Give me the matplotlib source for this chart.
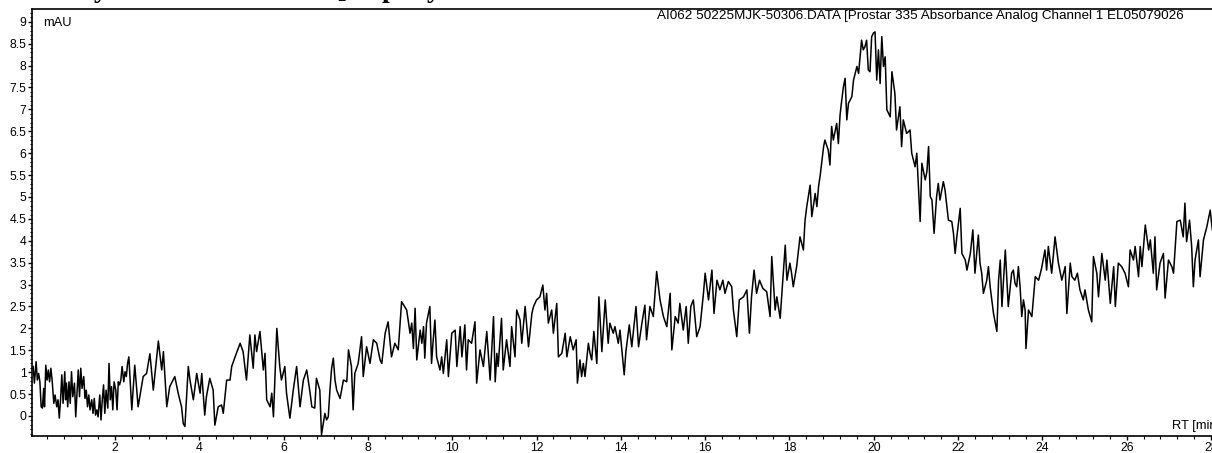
import matplotlib
matplotlib.use("Agg")
import matplotlib.pyplot as plt
from matplotlib.ticker import MultipleLocator, FuncFormatter
import numpy as np

# ---- data (retention time [min], absorbance [mAU]) ----
rt_a = [0.06, 0.09, 0.13, 0.16, 0.19, 0.22, 0.25, 0.28, 0.31, 0.33, 0.36, 0.39, 0.42, 0.45, 0.48,
        0.51, 0.55, 0.58, 0.62, 0.65, 0.68, 0.71, 0.74, 0.77, 0.81, 0.83, 0.85, 0.88, 0.91, 0.94,
        0.97, 1.00, 1.04, 1.07, 1.10, 1.13, 1.16, 1.19, 1.22, 1.26, 1.29, 1.32, 1.35, 1.38, 1.41,
        1.45, 1.48, 1.51, 1.54, 1.57, 1.60, 1.64, 1.67, 1.70, 1.73, 1.76, 1.79, 1.83, 1.86, 1.89,
        1.92, 1.95, 1.98, 2.02, 2.05, 2.08, 2.11, 2.14, 2.17, 2.21, 2.24, 2.27, 2.30, 2.33]
mau_a = [1.13, 0.75, 1.24, 0.82, 0.97, 0.78, 0.21, 0.18, 0.63, 0.21, 1.16, 0.82, 1.05, 0.78, 1.09,
         0.82, 0.29, 0.48, 0.21, 0.37, -0.05, 0.37, 0.94, 0.29, 1.01, 0.37, 0.75, 0.21, 0.78, 0.29,
         1.01, 0.44, 0.75, -0.02, 0.52, 1.05, 0.44, 1.09, 0.63, 0.90, 0.40, 0.59, 0.21, 0.48, 0.14,
         0.37, 0.06, 0.40, 0.02, 0.14, -0.02, 0.48, -0.09, 0.37, 0.71, 0.06, 0.59, 0.18, 1.20, 0.37,
         0.67, 0.14, 0.78, 0.59, 0.14, 0.78, 0.71, 0.82, 1.13, 0.78, 1.01, 0.90, 1.20, 1.35]

rt_b = [2.40, 2.47, 2.55, 2.67, 2.75, 2.83, 2.91, 3.03, 3.11, 3.15, 3.23, 3.30, 3.42, 3.50, 3.58,
        3.62, 3.66, 3.74, 3.78, 3.86, 3.94, 4.02, 4.06, 4.13, 4.17, 4.25, 4.33, 4.37, 4.45, 4.53,
        4.57, 4.61, 4.65, 4.73, 4.77, 4.85, 4.97, 5.04, 5.12, 5.20, 5.28, 5.32, 5.36, 5.44, 5.52,
        5.56, 5.60, 5.68, 5.72, 5.76, 5.84, 5.91, 5.95, 6.03, 6.07, 6.15, 6.23, 6.31, 6.39, 6.47,
        6.55, 6.63, 6.67, 6.74, 6.78, 6.86, 6.90, 6.98, 7.02, 7.06, 7.10, 7.14, 7.18, 7.22, 7.26,
        7.34, 7.42, 7.50, 7.54, 7.61, 7.65, 7.69, 7.77, 7.85, 7.89, 7.97, 8.05, 8.13, 8.21, 8.29,
        8.33, 8.41, 8.48, 8.56, 8.64, 8.72, 8.80]
mau_b = [0.14, 1.16, 0.21, 0.90, 0.97, 1.42, 0.59, 1.71, 1.05, 1.47, 0.21, 0.67, 0.90, 0.52, 0.21,
         -0.17, -0.24, 1.13, 0.82, 0.37, 0.97, 0.52, 0.97, 0.02, 0.44, 0.86, 0.59, -0.21, 0.21, 0.25,
         0.06, 0.44, 0.82, 0.82, 1.13, 1.35, 1.66, 1.47, 0.82, 1.85, 1.09, 1.85, 1.47, 1.93, 1.05,
         1.43, 0.37, 0.21, 0.52, -0.02, 2.00, 1.13, 0.82, 1.13, 0.52, -0.05, 0.59, 1.13, 0.21, 0.82,
         1.05, 0.52, 0.21, 0.18, 0.86, 0.59, -0.43, 0.06, -0.09, -0.02, 0.59, 1.09, 1.32, 0.82, 0.59,
         0.40, 0.82, 0.78, 1.51, 1.13, 0.14, 0.97, 1.20, 1.81, 0.90, 1.58, 1.20, 1.74, 1.66, 1.28,
         1.20, 1.89, 2.15, 1.35, 1.66, 1.51, 2.61]

rt_c = [8.92, 9.00, 9.04, 9.08, 9.12, 9.16, 9.24, 9.28, 9.32, 9.35, 9.39, 9.47, 9.51, 9.55, 9.59,
        9.63, 9.67, 9.71, 9.75, 9.79, 9.87, 9.91, 9.99, 10.07, 10.11, 10.19, 10.23, 10.30, 10.34, 10.38,
        10.46, 10.54, 10.58, 10.66, 10.74, 10.82, 10.90, 10.98, 11.02, 11.06, 11.09, 11.17, 11.21, 11.29, 11.37,
        11.41, 11.49, 11.53, 11.61, 11.65, 11.73, 11.81, 11.89, 11.93, 12.00, 12.08, 12.15, 12.20, 12.24, 12.28,
        12.36, 12.40, 12.48, 12.52, 12.60, 12.68, 12.72, 12.80, 12.87, 12.94, 12.97, 13.03, 13.07, 13.11, 13.15,
        13.23, 13.27, 13.31, 13.36, 13.43, 13.48, 13.55, 13.63, 13.70, 13.74, 13.82, 13.86, 13.94, 13.98, 14.08,
        14.12, 14.20, 14.26, 14.36, 14.42, 14.50, 14.57, 14.61, 14.69, 14.77, 14.85, 14.93, 15.01, 15.09, 15.17,
        15.21, 15.29, 15.36, 15.40, 15.48, 15.55, 15.60, 15.66, 15.72, 15.80, 15.88, 15.96, 16.00, 16.08, 16.16,
        16.21, 16.28, 16.35, 16.42, 16.47, 16.55, 16.63, 16.67, 16.75, 16.81, 16.91, 16.99, 17.05, 17.10, 17.16,
        17.22, 17.29, 17.37, 17.46, 17.54, 17.58, 17.66, 17.70, 17.78]
mau_c = [2.42, 1.89, 2.12, 1.54, 2.46, 1.28, 1.96, 1.66, 2.04, 1.32, 2.12, 2.50, 1.20, 1.74, 2.19,
         1.35, 1.20, 1.05, 1.35, 0.97, 1.74, 0.90, 1.89, 1.96, 1.13, 2.04, 1.35, 2.08, 1.05, 1.74,
         1.66, 2.15, 0.75, 1.51, 1.13, 1.93, 0.82, 2.27, 0.78, 1.43, 1.13, 2.23, 1.05, 1.74, 1.13,
         2.04, 1.35, 2.42, 2.19, 1.66, 2.50, 1.58, 2.34, 2.50, 2.65, 2.72, 2.99, 2.42, 2.80, 2.12,
         2.42, 1.89, 2.57, 1.35, 1.43, 1.89, 1.35, 1.81, 1.51, 1.74, 0.75, 1.28, 0.90, 1.20, 0.90,
         1.66, 1.43, 1.28, 1.93, 1.20, 2.72, 1.47, 2.65, 1.66, 2.12, 1.89, 2.04, 1.66, 1.96, 0.94,
         1.47, 2.08, 1.58, 2.50, 1.58, 2.12, 2.53, 1.74, 2.50, 2.27, 3.30, 2.65, 2.27, 2.04, 2.80,
         1.51, 2.27, 2.12, 2.57, 1.96, 2.50, 1.66, 2.50, 2.65, 1.81, 2.04, 2.80, 3.26, 2.65, 3.33,
         2.34, 3.10, 2.88, 3.10, 2.80, 3.07, 2.95, 2.42, 1.81, 2.65, 2.72, 2.88, 1.89, 2.72, 3.33,
         2.80, 3.10, 2.91, 2.84, 2.27, 3.64, 2.42, 2.72, 2.23]

rt_d = [17.82, 17.90, 17.94, 18.01, 18.05, 18.09, 18.17, 18.25, 18.33, 18.37, 18.41, 18.49, 18.53, 18.61, 18.65,
        18.69, 18.73, 18.81, 18.84, 18.92, 18.96, 19.00, 19.04, 19.12, 19.16, 19.20, 19.24, 19.28, 19.32, 19.36,
        19.40, 19.48, 19.52, 19.60, 19.64, 19.71, 19.75, 19.79, 19.83, 19.87, 19.91, 19.95, 19.99, 20.03, 20.07,
        20.11, 20.15, 20.19, 20.23, 20.27, 20.31, 20.39, 20.43, 20.50, 20.54, 20.62, 20.66, 20.70, 20.78, 20.86,
        20.90, 20.98, 21.02, 21.10, 21.14, 21.22, 21.26, 21.30, 21.34, 21.38, 21.43, 21.49, 21.53, 21.57, 21.65,
        21.69, 21.77, 21.85, 21.89, 21.93, 21.97, 22.05, 22.09, 22.17, 22.21, 22.29, 22.35, 22.40, 22.48, 22.52,
        22.56, 22.60, 22.68, 22.72, 22.76, 22.84, 22.92, 22.96, 23.00, 23.04, 23.12, 23.19, 23.27, 23.31, 23.35,
        23.39, 23.43, 23.47, 23.51, 23.55, 23.59, 23.61, 23.67, 23.75, 23.83, 23.91, 23.98, 24.06, 24.10, 24.14,
        24.22, 24.30, 24.38, 24.46, 24.54, 24.58, 24.66, 24.70, 24.77, 24.83, 24.89, 24.97, 25.01, 25.09, 25.17,
        25.21, 25.29, 25.33, 25.41, 25.49, 25.53, 25.61, 25.69, 25.73, 25.80, 25.88, 25.96, 26.04, 26.08, 26.16,
        26.20, 26.28, 26.32, 26.36, 26.44, 26.52, 26.56, 26.63, 26.67, 26.71, 26.79, 26.87, 26.91, 26.99, 27.07,
        27.11, 27.19, 27.27, 27.34, 27.38, 27.42, 27.49, 27.54, 27.58, 27.62, 27.70, 27.74, 27.82, 27.90, 27.98,
        28.03]
mau_d = [2.80, 3.90, 3.10, 3.49, 3.26, 2.95, 3.41, 4.09, 3.79, 4.47, 4.78, 5.27, 4.55, 5.08, 4.78,
         5.24, 5.50, 6.15, 6.30, 6.07, 5.73, 6.61, 6.30, 6.68, 6.22, 6.87, 7.21, 7.52, 7.71, 6.76,
         7.14, 7.29, 7.67, 7.98, 7.82, 8.58, 8.36, 8.43, 8.58, 7.90, 7.86, 8.66, 8.74, 8.77, 7.67,
         8.36, 7.59, 8.66, 7.98, 8.20, 6.99, 6.83, 7.86, 7.37, 6.53, 7.06, 6.15, 6.76, 6.45, 6.53,
         6.00, 5.69, 6.00, 4.44, 5.77, 5.39, 5.58, 6.15, 5.01, 4.93, 4.17, 5.01, 5.31, 4.93, 5.35,
         5.16, 4.47, 4.44, 4.17, 3.71, 4.09, 4.74, 3.71, 3.56, 3.33, 3.71, 4.25, 3.26, 4.13, 3.49,
         3.26, 2.80, 3.10, 3.41, 2.95, 2.34, 1.93, 3.10, 3.56, 2.50, 3.79, 2.50, 3.26, 3.33, 3.03,
         2.95, 3.41, 2.95, 2.27, 2.65, 2.42, 1.54, 2.42, 2.27, 3.18, 3.10, 3.37, 3.79, 3.33, 3.87,
         3.26, 4.09, 3.49, 3.10, 3.41, 2.34, 3.49, 3.18, 3.10, 3.26, 2.88, 2.65, 2.88, 2.42, 2.15,
         3.64, 3.26, 2.72, 3.71, 3.10, 3.56, 2.57, 3.41, 2.50, 3.49, 3.41, 3.26, 2.95, 3.79, 3.56,
         3.87, 3.18, 3.87, 3.41, 4.36, 3.79, 4.02, 3.26, 4.09, 2.88, 3.49, 3.71, 2.69, 3.56, 3.41,
         3.26, 4.44, 4.47, 4.09, 4.86, 3.98, 4.47, 3.87, 2.95, 3.56, 4.02, 3.18, 4.02, 4.32, 4.70,
         4.25]

header_text = "AI062 50225MJK-50306.DATA [Prostar 335 Absorbance Analog Channel 1 EL05079026"
y_unit = "mAU"
x_unit = "RT [min]"

rt = np.array(rt_a + rt_b + rt_c + rt_d)
mau = np.array(mau_a + mau_b + mau_c + mau_d)

# ---- figure ----
W, H = 1212, 453
fig = plt.figure(figsize=(W / 100, H / 100), dpi=100)
plt.rcParams['font.family'] = ['Liberation Sans', 'DejaVu Sans']

def fx(px):
    return px / W

def fy(py):
    return 1 - py / H

ax_left, ax_right, ax_top, ax_bottom = 32.3, 1214, 9.3, 436
ax = fig.add_axes([fx(ax_left), fy(ax_bottom), (ax_right - ax_left) / W, (ax_bottom - ax_top) / H])
ax.plot(rt, mau, color='black', lw=1.1, antialiased=True)

ax.set_xlim(0.04, 28.07)
ax.set_ylim(-0.457, 9.285)

ax.xaxis.set_major_locator(MultipleLocator(2))
ax.xaxis.set_minor_locator(MultipleLocator(0.4))
ax.yaxis.set_major_locator(MultipleLocator(0.5))
ax.yaxis.set_minor_locator(MultipleLocator(0.1))
ax.yaxis.set_major_formatter(FuncFormatter(lambda v, p: "%g" % round(v, 2)))
ax.xaxis.set_major_formatter(FuncFormatter(lambda v, p: "%g" % round(v, 2)))

for s in ['left', 'top', 'bottom', 'right']:
    ax.spines[s].set_linewidth(1.2)
    ax.spines[s].set_color('black')

ax.tick_params(axis='both', which='major', direction='out', length=3.2, width=1.0,
               labelsize=8.8, pad=1.0, colors='black')
ax.tick_params(axis='both', which='minor', direction='out', length=1.8, width=0.8)
ax.tick_params(axis='x', which='major', pad=1.3)

fig.text(fx(43), fy(22.5), y_unit, fontsize=9.3, ha='left', va='center')
fig.text(fx(1184), fy(16.5), header_text, fontsize=9.7, ha='right', va='center')
fig.text(fx(1172.5), fy(426.5), x_unit, fontsize=9.3, ha='left', va='center')

# clipped title fragments at the very top (only descenders visible)
title_family = ['Liberation Serif', 'DejaVu Serif']
for ch, px, base in [("y", 101, -3.0), ("\u2082", 341, -5.0), ("p", 389, -3.5), ("y", 434, -3.0)]:
    fig.text(fx(px), fy(base), ch, fontsize=20, fontweight='bold', family=title_family,
             ha='center', va='baseline')

fig.savefig("out.png", dpi=100)
